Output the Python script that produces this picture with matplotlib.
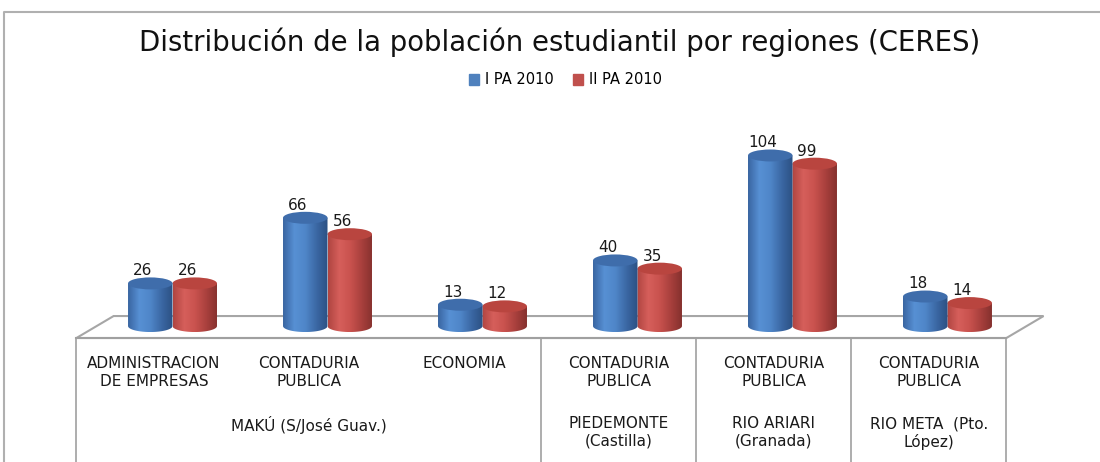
import matplotlib.pyplot as plt
import numpy as np
from matplotlib.patches import Ellipse, Patch, Polygon, PathPatch
from matplotlib.path import Path
from matplotlib.colors import LinearSegmentedColormap

plt.rcParams["font.family"] = ["DejaVu Sans"]

# datos
carreras = ['ADMINISTRACION\nDE EMPRESAS', 'CONTADURIA\nPUBLICA', 'ECONOMIA',
            'CONTADURIA\nPUBLICA', 'CONTADURIA\nPUBLICA', 'CONTADURIA\nPUBLICA']
regiones = ['MAKÚ (S/José Guav.)', 'PIEDEMONTE\n(Castilla)',
            'RIO ARIARI\n(Granada)', 'RIO META  (Pto.\nLópez)']
carreras_por_region = [3, 1, 1, 1]
ipa_2010 = [26, 66, 13, 40, 104, 18]
iipa_2010 = [26, 56, 12, 35, 99, 14]
series = ['I PA 2010', 'II PA 2010']

fig = plt.figure(figsize=(11, 4.62), dpi=100)
ax = fig.add_axes([0, 0, 1, 1])
ax.axis('off')

w = 0.287        # ancho de cada cilindro
eh = 7.3         # alto de las elipses
d = 0.12         # desplazamiento de profundidad (x)
piso_f, piso_b = -7.3, 6.1

azul = LinearSegmentedColormap.from_list('azul', ['#3a66a2', '#5790d4', '#4f86c8', '#3b68a4', '#2c5184'])
rojo = LinearSegmentedColormap.from_list('rojo', ['#b04541', '#d65f5b', '#c9524e', '#a9403d', '#86312e'])

n = len(carreras)
# piso
piso = Polygon([(-0.5 - d, piso_f), (n - 0.5 - d, piso_f),
                (n - 0.5 + d, piso_b), (-0.5 + d, piso_b)],
               closed=True, facecolor='white', edgecolor='#a6a6a6', lw=1.5, zorder=1)
ax.add_patch(piso)


def cilindro(x, h, cmap, tapa, z):
    t = np.linspace(np.pi, 2 * np.pi, 40)
    base = np.column_stack([x + w / 2 * np.cos(t), eh / 2 * np.sin(t)])
    verts = np.vstack([base, [[x + w / 2, h], [x - w / 2, h], [x - w / 2, 0]]])
    patch = PathPatch(Path(verts), facecolor='none', edgecolor='none')
    ax.add_patch(patch)
    im = ax.imshow(np.linspace(0, 1, 64)[None, :], cmap=cmap, aspect='auto',
                   extent=(x - w / 2, x + w / 2, -eh / 2, h), zorder=z)
    im.set_clip_path(patch)
    ax.add_patch(Ellipse((x, h), w, eh, facecolor=tapa, edgecolor='none', zorder=z + 0.1))


for i in range(n):
    cilindro(i + w / 2, iipa_2010[i], rojo, '#b9453f', 2)
    cilindro(i - w / 2, ipa_2010[i], azul, '#3f6dab', 3)
    for xv, v in [(i - w / 2, ipa_2010[i]), (i + w / 2, iipa_2010[i])]:
        ax.annotate(str(v), (xv, v + eh / 2), xytext=(-5.5, 1.5),
                    textcoords='offset points', ha='center', va='baseline',
                    fontsize=11, color='#1a1a1a', zorder=5)

ax.set_ylim(-82.9, 198.8)
ax.set_xlim(-1.113, 5.984)

# etiquetas del eje (dos niveles)
gris = '#a0a0a0'
ax.plot([-0.5 - d, n - 0.5 - d], [piso_f, piso_f], color=gris, lw=1.5, zorder=1)
ini = 0
bordes = [-0.5 - d]
for reg, k in zip(regiones, carreras_por_region):
    fin = ini + k
    bordes.append(fin - 0.5 - d)
    ax.text((ini + fin - 1) / 2 - d, -54.9, reg, ha='center', va='top',
            fontsize=11, color='#1a1a1a', linespacing=1.22)
    ini = fin
for b in bordes:
    ax.plot([b, b], [piso_f, -90], color=gris, lw=1.2, zorder=1)
for i, c in enumerate(carreras):
    ax.text(i - d, -18.3, c, ha='center', va='top', fontsize=11,
            color='#1a1a1a', linespacing=1.22)

# marco exterior
ax.plot([0.0036, 0.0036, 1.0], [0.0, 0.974, 0.974], transform=ax.transAxes,
        color='#b0b0b0', lw=1.5, clip_on=False)

fig.text(0.509, 1 - 42 / 462, 'Distribución de la población estudiantil por regiones (CERES)',
         ha='center', va='center', fontsize=19.8, color='#111111')

ax.legend(handles=[Patch(color='#4f81bd', label=series[0]),
                   Patch(color='#c0504d', label=series[1])],
          loc='center', bbox_to_anchor=(0.514, 1 - 80 / 462), ncol=2,
          frameon=False, fontsize=10.5, handlelength=0.7, handleheight=0.7,
          handletextpad=0.4, columnspacing=1.3)

fig.savefig('out.png', dpi=100)
